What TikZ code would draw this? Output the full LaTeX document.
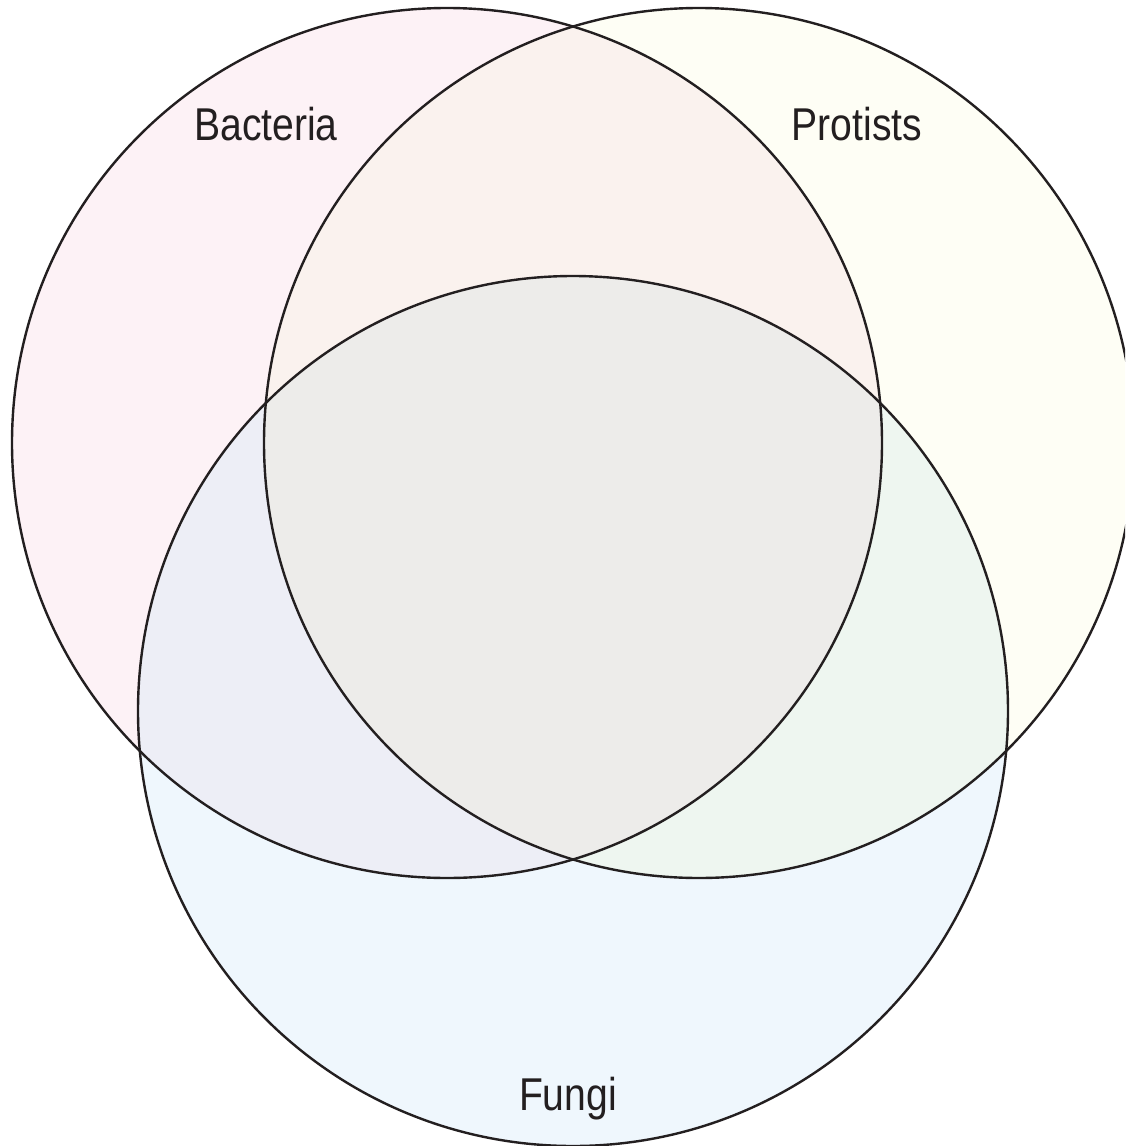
\documentclass[tikz,border=0pt]{standalone}
\usepackage{fontspec}
\setmainfont{Liberation Sans}
\definecolor{cA}{HTML}{FDF2F6}
\definecolor{cB}{HTML}{FEFEF5}
\definecolor{cC}{HTML}{EFF7FD}
\definecolor{cAB}{HTML}{FAF2EE}
\definecolor{cAC}{HTML}{EDEEF6}
\definecolor{cBC}{HTML}{EEF6F0}
\definecolor{cABC}{HTML}{EDECEA}
\definecolor{ink}{HTML}{231F20}
\begin{document}
\begin{tikzpicture}[x=1pt,y=-1pt,
  outline/.style={draw=ink,line width=2.4pt},
  lbl/.style={text=ink,font=\fontsize{46}{50}\selectfont,xscale=0.85,inner sep=0pt}]
\useasboundingbox (0,0) rectangle (1125,1146);
\clip (0,0) rectangle (1125,1146);
\fill[white] (0,0) rectangle (1125,1146);
\coordinate (A) at (447,443);
\coordinate (B) at (699,443);
\coordinate (C) at (573,711);
\fill[cA] (A) circle (435);
\fill[cB] (B) circle (435);
\fill[cC] (C) circle (435);
\begin{scope}\clip (A) circle (435); \fill[cAB] (B) circle (435);\end{scope}
\begin{scope}\clip (A) circle (435); \fill[cAC] (C) circle (435);\end{scope}
\begin{scope}\clip (B) circle (435); \fill[cBC] (C) circle (435);\end{scope}
\begin{scope}\clip (A) circle (435); \clip (B) circle (435); \fill[cABC] (C) circle (435);\end{scope}
\draw[outline] (A) circle (435);
\draw[outline] (B) circle (435);
\draw[outline] (C) circle (435);
\node[lbl] (bact) at (266,124) {Bacteria};
\node[lbl] (prot) at (857,124) {Protists};
\node[lbl] (fung) at (568,1099) {Fungi};
\end{tikzpicture}
\end{document}
